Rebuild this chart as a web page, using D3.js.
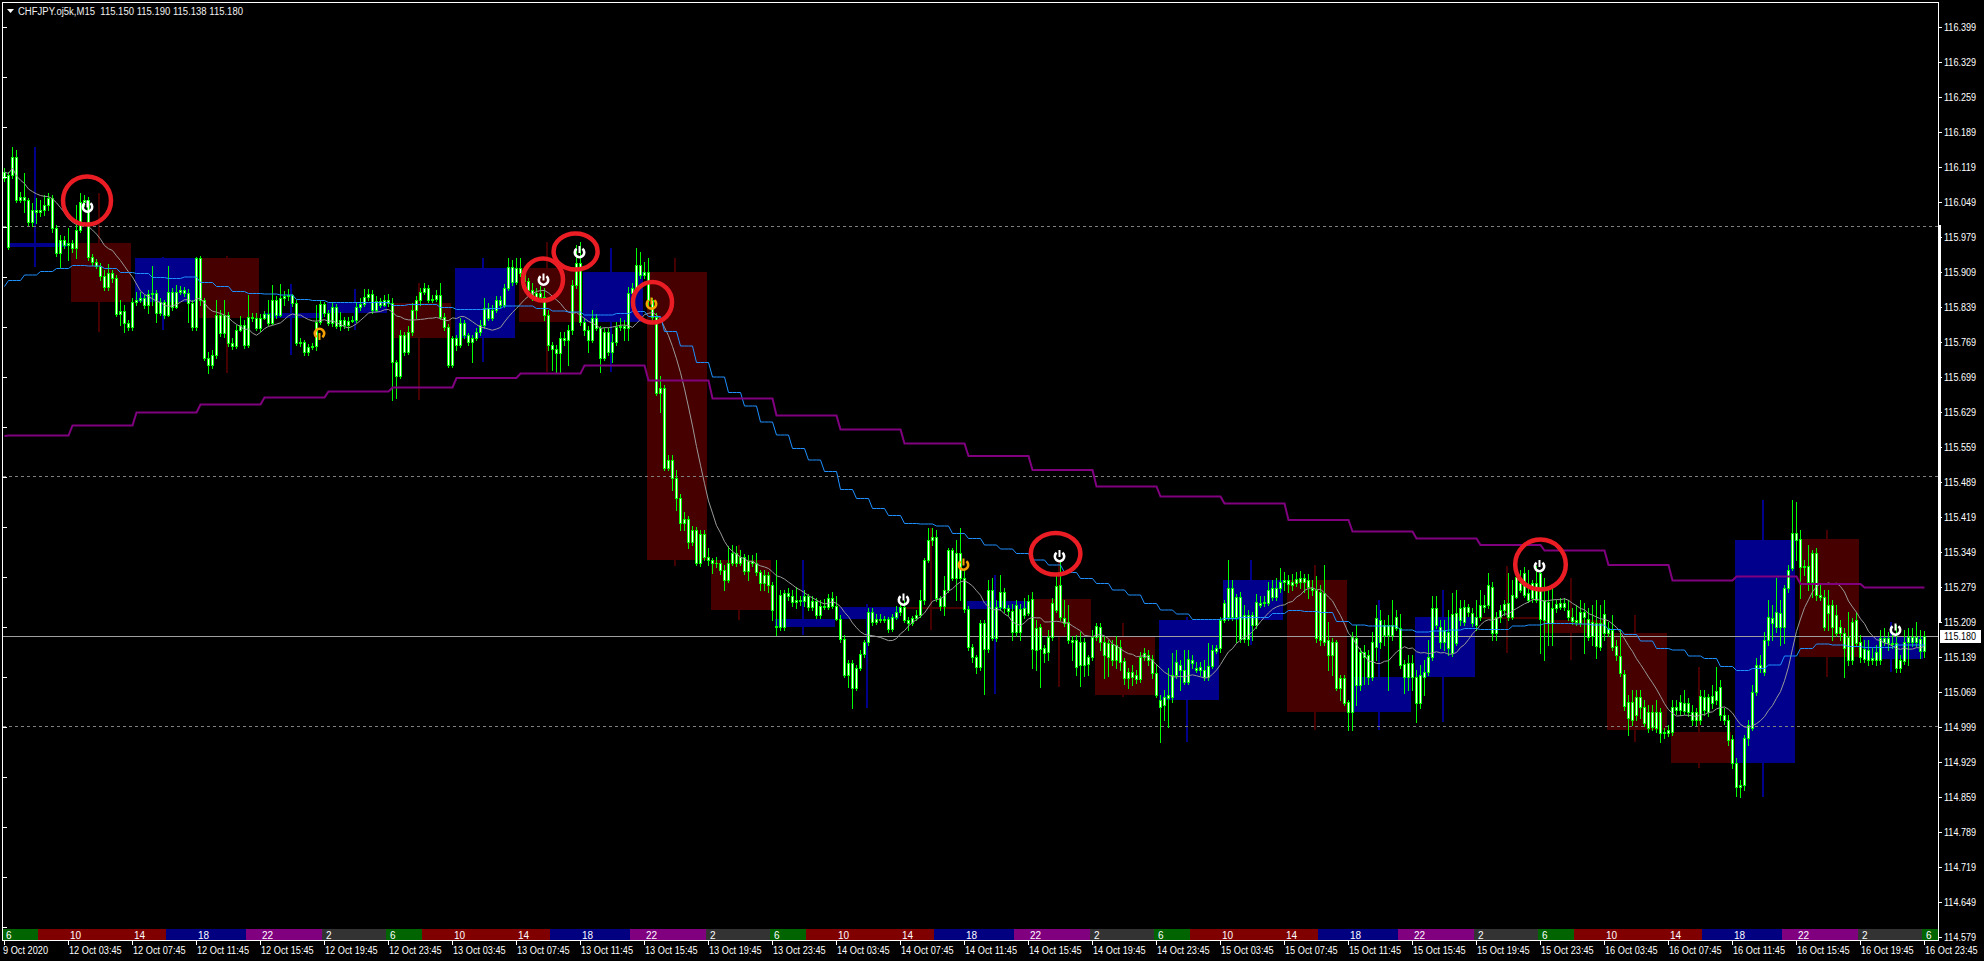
<!DOCTYPE html>
<html><head><meta charset="utf-8">
<script src="https://cdn.jsdelivr.net/npm/d3@7"></script>
<style>html,body{margin:0;padding:0;background:#000;overflow:hidden}svg{display:block}</style>
</head><body>
<svg id="chart" width="1984" height="961"></svg>
<script>
// ---------------- DATA (CHFJPY M15, 9 Oct 23:45 .. 16 Oct 23:45) ----------------
const symbolTitle = "CHFJPY.oj5k,M15  115.150 115.190 115.138 115.180";
const opens = [
116.097,115.959,116.103,116.139,116.053,116.059,116.053,116.009,116.033,116.029,
116.033,116.043,116.057,115.997,115.947,115.973,115.963,115.967,115.957,115.993,
116.049,116.053,115.939,115.929,115.921,115.901,115.879,115.907,115.897,115.825,
115.831,115.807,115.799,115.849,115.853,115.857,115.843,115.865,115.867,115.827,
115.849,115.823,115.869,115.839,115.869,115.873,115.867,115.847,115.799,115.937,
115.853,115.737,115.723,115.743,115.823,115.787,115.823,115.767,115.761,115.793,
115.803,115.763,115.819,115.817,115.797,115.817,115.825,115.807,115.853,115.823,
115.857,115.861,115.863,115.847,115.767,115.769,115.749,115.759,115.761,115.809,
115.845,115.827,115.807,115.839,115.801,115.813,115.803,115.811,115.813,115.839,
115.845,115.859,115.865,115.833,115.851,115.843,115.853,115.847,115.729,115.701,
115.783,115.749,115.789,115.833,115.853,115.869,115.877,115.853,115.855,115.863,
115.819,115.799,115.723,115.777,115.763,115.807,115.783,115.769,115.777,115.789,
115.803,115.837,115.817,115.833,115.853,115.843,115.877,115.919,115.889,115.917,
115.907,115.891,115.873,115.859,115.867,115.859,115.823,115.763,115.755,115.747,
115.777,115.773,115.793,115.883,115.927,115.809,115.793,115.773,115.817,115.797,
115.737,115.789,115.749,115.769,115.799,115.801,115.797,115.867,115.877,115.923,
115.903,115.909,115.853,115.819,115.667,115.677,115.517,115.533,115.497,115.457,
115.407,115.415,115.369,115.393,115.327,115.385,115.339,115.333,115.327,115.327,
115.313,115.293,115.327,115.347,115.327,115.339,115.311,115.331,115.327,115.309,
115.287,115.303,115.283,115.199,115.199,115.199,115.267,115.261,115.249,115.253,
115.251,115.261,115.239,115.251,115.223,115.241,115.239,115.257,115.241,115.215,
115.175,115.103,115.127,115.077,115.117,115.145,115.169,115.229,115.209,115.215,
115.213,115.215,115.195,115.219,115.229,115.239,115.213,115.207,115.217,115.223,
115.253,115.333,115.373,115.379,115.257,115.241,115.273,115.353,115.297,115.347,
115.297,115.235,115.159,115.139,115.119,115.207,115.155,115.273,115.177,115.239,
115.269,115.237,115.231,115.189,115.235,115.223,115.227,115.255,115.153,115.199,
115.147,115.149,115.179,115.233,115.283,115.217,115.209,115.173,115.173,115.123,
115.169,115.125,115.139,115.179,115.199,115.169,115.139,115.165,115.133,115.159,
115.131,115.097,115.109,115.095,115.095,115.139,115.143,115.135,115.107,115.053,
115.043,115.057,115.059,115.103,115.123,115.113,115.089,115.133,115.117,115.113,
115.113,115.099,115.121,115.151,115.157,115.213,115.219,115.277,115.219,115.259,
115.175,115.223,115.203,115.203,115.247,115.247,115.247,115.277,115.259,115.277,
115.289,115.293,115.283,115.287,115.297,115.289,115.293,115.277,115.273,115.173,
115.267,115.173,115.143,115.169,115.077,115.097,115.049,115.029,115.177,115.083,
115.149,115.143,115.099,115.159,115.213,115.183,115.203,115.183,115.197,115.197,
115.125,115.099,115.127,115.099,115.047,115.099,115.109,115.139,115.237,115.199,
115.169,115.189,115.147,115.227,115.213,115.239,115.229,115.227,115.203,115.219,
115.243,115.243,115.279,115.187,115.219,115.233,115.247,115.219,115.259,115.287,
115.263,115.267,115.257,115.287,115.307,115.213,115.249,115.207,115.237,115.247,
115.239,115.233,115.219,115.213,115.207,115.229,115.215,115.181,115.207,115.159,
115.225,115.187,115.193,115.161,115.141,115.105,115.049,115.013,115.059,115.039,
115.039,114.997,115.029,114.997,115.029,114.987,114.987,114.989,115.039,115.033,
115.047,115.029,115.029,115.013,115.013,115.059,115.029,115.061,115.053,115.079,
115.023,115.013,114.975,114.927,114.879,114.883,114.977,114.997,115.069,115.123,
115.109,115.173,115.217,115.199,115.227,115.199,115.277,115.317,115.387,115.375,
115.319,115.321,115.289,115.347,115.263,115.259,115.227,115.243,115.187,115.199,
115.187,115.179,115.133,115.213,115.169,115.135,115.153,115.133,115.133,115.133,
115.177,115.167,115.167,115.167,115.117,115.131,115.169,115.179,115.169,115.175,
115.150];
const highs = [
116.117,116.109,116.159,116.153,116.069,116.107,116.057,116.047,116.057,116.053,
116.063,116.067,116.063,116.003,115.983,115.981,115.997,115.973,116.043,116.067,
116.063,116.059,115.945,115.935,115.927,115.913,115.925,115.913,115.903,115.853,
115.843,115.813,115.857,115.869,115.869,115.863,115.873,115.921,115.873,115.857,
115.853,115.921,115.877,115.883,115.881,115.879,115.875,115.853,115.939,115.941,
115.857,115.749,115.753,115.853,115.833,115.853,115.829,115.777,115.803,115.821,
115.813,115.863,115.827,115.827,115.825,115.831,115.853,115.883,115.861,115.885,
115.871,115.875,115.865,115.853,115.777,115.773,115.765,115.767,115.843,115.853,
115.849,115.833,115.849,115.845,115.829,115.819,115.819,115.821,115.849,115.857,
115.875,115.875,115.873,115.861,115.857,115.863,115.865,115.857,115.733,115.793,
115.789,115.801,115.847,115.861,115.877,115.887,115.883,115.863,115.873,115.887,
115.827,115.805,115.781,115.783,115.817,115.813,115.787,115.783,115.797,115.813,
115.857,115.847,115.843,115.861,115.861,115.885,115.937,115.933,115.937,115.937,
115.913,115.897,115.887,115.877,115.881,115.877,115.833,115.769,115.763,115.789,
115.789,115.803,115.893,115.963,115.969,115.817,115.801,115.833,115.825,115.801,
115.797,115.797,115.785,115.809,115.817,115.813,115.879,115.887,115.957,115.949,
115.929,115.937,115.857,115.827,115.701,115.683,115.543,115.543,115.513,115.465,
115.429,115.421,115.401,115.399,115.393,115.393,115.357,115.337,115.339,115.333,
115.323,115.361,115.363,115.361,115.353,115.345,115.343,115.343,115.347,115.313,
115.313,115.309,115.289,115.333,115.273,115.273,115.277,115.273,115.279,115.261,
115.273,115.265,115.261,115.257,115.253,115.255,115.265,115.269,115.261,115.223,
115.183,115.133,115.133,115.123,115.153,115.173,115.237,115.237,115.225,115.225,
115.221,115.219,115.225,115.241,115.245,115.253,115.219,115.221,115.233,115.273,
115.337,115.397,115.397,115.393,115.261,115.301,115.357,115.357,115.373,115.397,
115.313,115.241,115.165,115.143,115.213,115.213,115.293,115.297,115.253,115.303,
115.277,115.243,115.245,115.253,115.245,115.257,115.263,115.269,115.213,115.205,
115.163,115.193,115.257,115.303,115.329,115.253,115.243,115.181,115.183,115.189,
115.177,115.143,115.193,115.207,115.207,115.181,115.173,115.173,115.181,115.173,
115.137,115.117,115.123,115.113,115.149,115.157,115.153,115.143,115.125,115.063,
115.073,115.117,115.147,115.153,115.133,115.153,115.153,115.143,115.129,115.129,
115.133,115.167,115.163,115.163,115.219,115.253,115.333,115.293,115.265,115.269,
115.243,115.233,115.229,115.265,115.261,115.261,115.289,115.293,115.297,115.317,
115.309,115.303,115.305,115.309,115.311,115.305,115.305,115.293,115.301,115.283,
115.323,115.209,115.177,115.173,115.103,115.103,115.053,115.189,115.203,115.157,
115.163,115.153,115.189,115.243,115.233,115.213,115.223,115.253,115.233,115.225,
115.133,115.143,115.143,115.113,115.123,115.133,115.173,115.261,115.261,115.213,
115.213,115.233,115.267,115.273,115.253,115.253,115.245,115.237,115.253,115.273,
115.263,115.307,115.289,115.229,115.243,115.253,115.307,115.293,115.321,115.313,
115.319,115.313,115.293,115.321,115.309,115.297,115.273,115.277,115.253,115.257,
115.257,115.253,115.237,115.243,115.253,115.247,115.237,115.243,115.253,115.243,
115.253,115.209,115.223,115.173,115.193,115.113,115.063,115.073,115.073,115.073,
115.053,115.043,115.043,115.053,115.037,114.997,115.003,115.053,115.053,115.063,
115.073,115.057,115.043,115.037,115.073,115.073,115.065,115.083,115.119,115.093,
115.037,115.023,114.983,114.937,114.893,114.983,115.013,115.083,115.137,115.143,
115.189,115.253,115.243,115.297,115.253,115.283,115.323,115.453,115.449,115.393,
115.333,115.363,115.353,115.357,115.287,115.273,115.273,115.253,115.243,115.213,
115.197,115.229,115.217,115.229,115.183,115.173,115.173,115.157,115.163,115.193,
115.197,115.189,115.183,115.203,115.143,115.193,115.197,115.197,115.209,115.193,
115.190];
const lows = [
116.091,115.955,116.097,116.049,116.049,116.029,116.003,116.001,116.007,116.021,
116.023,116.033,115.989,115.941,115.919,115.957,115.933,115.949,115.937,115.989,
116.041,115.933,115.923,115.917,115.893,115.873,115.873,115.889,115.821,115.803,
115.789,115.793,115.793,115.843,115.849,115.837,115.827,115.843,115.809,115.823,
115.817,115.821,115.833,115.837,115.865,115.861,115.809,115.793,115.793,115.843,
115.733,115.707,115.717,115.737,115.781,115.779,115.761,115.755,115.757,115.791,
115.757,115.759,115.811,115.793,115.791,115.815,115.803,115.805,115.817,115.821,
115.843,115.853,115.841,115.763,115.761,115.743,115.743,115.755,115.753,115.805,
115.821,115.803,115.801,115.797,115.793,115.797,115.793,115.809,115.809,115.833,
115.841,115.853,115.827,115.831,115.839,115.841,115.841,115.653,115.657,115.697,
115.743,115.745,115.783,115.817,115.843,115.865,115.849,115.849,115.851,115.815,
115.793,115.719,115.719,115.753,115.759,115.777,115.763,115.729,115.773,115.783,
115.797,115.813,115.813,115.829,115.839,115.839,115.873,115.883,115.885,115.901,
115.885,115.869,115.853,115.853,115.853,115.813,115.753,115.713,115.709,115.709,
115.763,115.723,115.785,115.877,115.803,115.783,115.749,115.769,115.793,115.709,
115.733,115.743,115.729,115.763,115.793,115.773,115.773,115.861,115.873,115.897,
115.897,115.843,115.813,115.663,115.629,115.513,115.513,115.473,115.433,115.393,
115.393,115.357,115.363,115.323,115.321,115.333,115.323,115.307,115.319,115.305,
115.273,115.289,115.323,115.321,115.323,115.305,115.293,115.321,115.303,115.273,
115.273,115.269,115.213,115.183,115.193,115.193,115.253,115.241,115.237,115.243,
115.241,115.233,115.233,115.217,115.217,115.235,115.235,115.237,115.213,115.169,
115.099,115.079,115.037,115.073,115.113,115.139,115.163,115.203,115.205,115.209,
115.209,115.189,115.191,115.215,115.223,115.209,115.193,115.203,115.213,115.219,
115.245,115.329,115.363,115.251,115.233,115.223,115.269,115.293,115.253,115.253,
115.229,115.153,115.129,115.107,115.113,115.065,115.149,115.173,115.171,115.233,
115.229,115.223,115.173,115.181,115.173,115.217,115.223,115.117,115.113,115.079,
115.129,115.133,115.173,115.229,115.213,115.201,115.167,115.133,115.103,115.081,
115.101,115.103,115.133,115.173,115.153,115.097,115.101,115.123,115.117,115.113,
115.085,115.077,115.083,115.087,115.089,115.133,115.123,115.097,115.059,114.969,
115.013,114.999,115.049,115.097,115.073,115.085,115.085,115.117,115.109,115.103,
115.093,115.093,115.117,115.147,115.149,115.209,115.213,115.213,115.169,115.169,
115.169,115.163,115.173,115.197,115.239,115.241,115.243,115.253,115.253,115.269,
115.273,115.269,115.273,115.281,115.277,115.269,115.257,115.263,115.169,115.163,
115.163,115.113,115.103,115.073,115.053,115.043,114.993,114.993,115.043,115.073,
115.085,115.085,115.093,115.133,115.157,115.163,115.073,115.173,115.193,115.117,
115.067,115.073,115.073,115.009,115.037,115.063,115.103,115.133,115.197,115.157,
115.153,115.143,115.141,115.163,115.203,115.203,115.221,115.201,115.193,115.213,
115.229,115.237,115.173,115.173,115.209,115.223,115.213,115.215,115.257,115.269,
115.259,115.249,115.249,115.249,115.147,115.133,115.163,115.163,115.229,115.235,
115.233,115.213,115.205,115.203,115.201,115.147,115.173,115.163,115.137,115.153,
115.173,115.181,115.153,115.133,115.101,115.033,114.983,115.003,115.013,115.017,
115.001,114.989,114.993,114.989,114.969,114.977,114.981,114.983,115.025,115.023,
115.025,115.021,115.003,115.003,115.005,115.023,115.021,115.037,115.045,115.013,
115.005,114.963,114.917,114.861,114.859,114.873,114.963,114.993,115.063,115.109,
115.103,115.163,115.173,115.189,115.163,115.167,115.269,115.313,115.333,115.257,
115.303,115.273,115.259,115.253,115.253,115.193,115.193,115.173,115.181,115.173,
115.099,115.123,115.125,115.161,115.129,115.129,115.123,115.125,115.123,115.125,
115.163,115.153,115.157,115.109,115.109,115.125,115.123,115.161,115.161,115.137,
115.138];
const closes = [
116.109,116.103,116.139,116.053,116.059,116.053,116.009,116.033,116.029,116.033,
116.043,116.057,115.997,115.947,115.973,115.963,115.967,115.957,115.993,116.049,
116.053,115.939,115.929,115.921,115.901,115.879,115.907,115.897,115.825,115.831,
115.807,115.799,115.849,115.853,115.857,115.843,115.865,115.867,115.827,115.849,
115.823,115.869,115.839,115.869,115.873,115.867,115.847,115.799,115.937,115.853,
115.737,115.723,115.743,115.823,115.787,115.823,115.767,115.761,115.793,115.803,
115.763,115.819,115.817,115.797,115.817,115.825,115.807,115.853,115.823,115.857,
115.861,115.863,115.847,115.767,115.769,115.749,115.759,115.761,115.809,115.845,
115.827,115.807,115.839,115.801,115.813,115.803,115.811,115.813,115.839,115.845,
115.859,115.865,115.833,115.851,115.843,115.853,115.847,115.729,115.701,115.783,
115.749,115.789,115.833,115.853,115.869,115.877,115.853,115.855,115.863,115.819,
115.799,115.723,115.777,115.763,115.807,115.783,115.769,115.777,115.789,115.803,
115.837,115.817,115.833,115.853,115.843,115.877,115.919,115.889,115.917,115.907,
115.891,115.873,115.859,115.867,115.859,115.823,115.763,115.755,115.747,115.777,
115.773,115.793,115.883,115.927,115.809,115.793,115.773,115.817,115.797,115.737,
115.789,115.749,115.769,115.799,115.801,115.797,115.867,115.877,115.923,115.903,
115.909,115.853,115.819,115.667,115.677,115.517,115.533,115.497,115.457,115.407,
115.415,115.369,115.393,115.327,115.385,115.339,115.333,115.327,115.327,115.313,
115.293,115.327,115.347,115.327,115.339,115.311,115.331,115.327,115.309,115.287,
115.303,115.283,115.233,115.201,115.263,115.267,115.261,115.249,115.253,115.251,
115.261,115.239,115.251,115.223,115.241,115.239,115.257,115.241,115.215,115.175,
115.103,115.127,115.077,115.117,115.145,115.169,115.229,115.209,115.215,115.213,
115.215,115.195,115.219,115.229,115.239,115.213,115.207,115.217,115.223,115.253,
115.333,115.373,115.379,115.257,115.241,115.273,115.353,115.297,115.347,115.297,
115.235,115.159,115.139,115.119,115.207,115.155,115.273,115.177,115.239,115.269,
115.237,115.231,115.189,115.243,115.189,115.237,115.251,115.155,115.197,115.155,
115.157,115.179,115.247,115.281,115.219,115.207,115.173,115.169,115.119,115.169,
115.123,115.139,115.179,115.201,115.169,115.143,115.167,115.133,115.163,115.129,
115.097,115.109,115.099,115.103,115.139,115.147,115.133,115.107,115.063,115.039,
115.059,115.063,115.103,115.129,115.113,115.089,115.135,115.127,115.113,115.119,
115.099,115.121,115.153,115.157,115.213,115.247,115.277,115.219,115.259,115.175,
115.223,115.175,115.223,115.249,115.243,115.249,115.273,115.259,115.277,115.289,
115.293,115.285,115.289,115.295,115.289,115.297,115.279,115.273,115.177,115.269,
115.169,115.143,115.169,115.077,115.097,115.047,115.029,115.179,115.083,115.149,
115.139,115.099,115.169,115.217,115.169,115.203,115.183,115.203,115.219,115.123,
115.099,115.127,115.099,115.047,115.103,115.109,115.139,115.237,115.203,115.169,
115.193,115.157,115.225,115.167,115.237,115.209,115.239,115.207,115.219,115.243,
115.239,115.283,115.187,115.219,115.233,115.245,115.219,115.263,115.299,115.273,
115.307,115.253,115.287,115.253,115.215,115.253,115.207,115.237,115.245,115.239,
115.247,115.219,115.211,115.209,115.229,115.219,115.179,115.209,115.161,115.207,
115.187,115.197,115.159,115.143,115.107,115.041,115.017,115.049,115.023,115.059,
115.007,115.029,114.999,115.029,114.987,114.989,114.993,115.039,115.033,115.049,
115.031,115.047,115.013,115.029,115.061,115.033,115.059,115.047,115.071,115.023,
115.013,114.973,114.927,114.879,114.883,114.977,115.003,115.069,115.123,115.117,
115.173,115.219,115.207,115.229,115.199,115.277,115.313,115.387,115.373,115.319,
115.321,115.289,115.347,115.263,115.259,115.199,115.243,115.199,115.223,115.187,
115.157,115.133,115.209,115.167,115.139,115.155,115.133,115.137,115.149,115.177,
115.169,115.177,115.165,115.117,115.133,115.169,115.179,115.169,115.179,115.150,
115.180];
// H1 moving average (blue): value for bar 0, then one value per hour (4 bars)
const maH1 = [115.880,
115.892,115.903,115.910,115.916,115.922,115.921,115.916,115.908,115.906,115.898,
115.896,115.899,115.888,115.880,115.870,115.866,115.865,115.863,115.854,115.852,
115.848,115.848,115.848,115.848,115.842,115.844,115.844,115.838,115.834,115.834,
115.836,115.841,115.841,115.836,115.831,115.829,115.823,115.823,115.826,115.830,
115.820,115.790,115.761,115.728,115.699,115.668,115.641,115.609,115.583,115.556,
115.533,115.510,115.474,115.456,115.436,115.422,115.406,115.405,115.401,115.386,
115.376,115.363,115.355,115.346,115.333,115.323,115.308,115.296,115.286,115.273,
115.263,115.246,115.233,115.225,115.214,115.214,115.216,115.218,115.218,115.226,
115.232,115.230,115.228,115.210,115.203,115.201,115.201,115.193,115.189,115.191,
115.193,115.196,115.194,115.194,115.201,115.203,115.206,115.206,115.205,115.203,
115.194,115.184,115.171,115.156,115.153,115.141,115.136,115.120,115.112,115.116,
115.123,115.141,115.156,115.165,115.163,115.160,115.158,115.158,115.163,115.163];
// H4 moving average (purple): value for bar 0, then one value per 4-hour block (16 bars)
const maH4 = [115.581,
115.582,115.602,115.628,115.644,115.658,115.670,115.678,115.697,115.706,115.722,
115.692,115.656,115.622,115.594,115.566,115.541,115.513,115.480,115.460,115.446,
115.413,115.390,115.376,115.363,115.352,115.323,115.292,115.300,115.285,115.278];
const fastMaPeriod = 14;
const priceTicks = [116.399,116.329,116.259,116.189,116.119,116.049,115.979,115.909,115.839,115.769,
115.699,115.629,115.559,115.489,115.419,115.349,115.279,115.209,115.139,115.069,114.999,114.929,
114.859,114.789,114.719,114.649,114.579];
const timeLabels = ["9 Oct 2020",
"12 Oct 03:45","12 Oct 07:45","12 Oct 11:45","12 Oct 15:45","12 Oct 19:45","12 Oct 23:45",
"13 Oct 03:45","13 Oct 07:45","13 Oct 11:45","13 Oct 15:45","13 Oct 19:45","13 Oct 23:45",
"14 Oct 03:45","14 Oct 07:45","14 Oct 11:45","14 Oct 15:45","14 Oct 19:45","14 Oct 23:45",
"15 Oct 03:45","15 Oct 07:45","15 Oct 11:45","15 Oct 15:45","15 Oct 19:45","15 Oct 23:45",
"16 Oct 03:45","16 Oct 07:45","16 Oct 11:45","16 Oct 15:45","16 Oct 19:45","16 Oct 23:45"];
const sessionLabels = ["6","10","14","18","22","2","6","10","14","18","22","2","6","10","14","18",
"22","2","6","10","14","18","22","2","6","10","14","18","22","2","6"];
const sessionStartBars = [0, 9, 41, 61, 80];          // offsets inside a 96-bar day
const sessionColors = ["#006400","#800000","#000080","#800080","#333333"];
const roundLevels = [116.0, 115.5, 115.0];
const lastPrice = 115.180;
const axisRangeMark = [116.003, 115.210];
const markerBars   = [21, 79, 135, 144, 162, 225, 240, 264, 384, 473];
const markerPrices = [116.039,115.786,115.893,115.948,115.845,115.253,115.323,115.340,115.320,115.193];
const markerKinds  = ["up","down","up","up","upOrange","up","upOrange","up","up","up"];
const ellipseFromBar = [14.75, 129.75, 137.4, 157.25, 256.7, 377.8];
const ellipseToBar   = [26.75, 139.75, 148.4, 167.0, 269.1, 390.45];
const ellipseTop     = [116.100, 115.936, 115.986, 115.889, 115.387, 115.374];
const ellipseBottom  = [116.004, 115.852, 115.914, 115.808, 115.304, 115.274];

// ---------------- DRAWING ----------------
const W = 1984, H = 961;
const L = 2.5, R = 1938.5, T = 2.5, B = 940.5;
const FONT = "'Liberation Sans', Arial, sans-serif";
const svg = d3.select("#chart");
svg.append("rect").attr("width", W).attr("height", H).attr("fill", "#000");

const n = closes.length;
const x = d3.scaleLinear().domain([0, n - 1]).range([4, 1924]);
const y = d3.scaleLinear().domain([114.579, 116.399]).range([937, 27]);

svg.append("defs").append("clipPath").attr("id", "plotClip")
  .append("rect").attr("x", 3).attr("y", 3).attr("width", 1935).attr("height", 926);
const plot = svg.append("g").attr("clip-path", "url(#plotClip)");

// Higher-timeframe (H4) candles built from the M15 bars
const blocks = d3.range(Math.floor((n - 1) / 16)).map(k => {
  const a = 1 + 16 * k, b = a + 15;
  return { a, b, o: opens[a], c: closes[b],
    h: d3.max(highs.slice(a, b + 1)), l: d3.min(lows.slice(a, b + 1)) };
});
const hg = plot.append("g").attr("shape-rendering", "crispEdges");
blocks.forEach(bk => {
  const col = bk.c >= bk.o ? "#00008c" : "#460000";
  const left = Math.round(x(bk.a)) - 1, width = Math.round(x(bk.b) - x(bk.a));
  const yt = Math.round(y(Math.max(bk.o, bk.c))), yb = Math.round(y(Math.min(bk.o, bk.c)));
  hg.append("rect").attr("x", left + 27).attr("width", 2)
    .attr("y", Math.round(y(bk.h))).attr("height", Math.round(y(bk.l)) - Math.round(y(bk.h)))
    .attr("fill", col);
  hg.append("rect").attr("x", left).attr("width", width)
    .attr("y", yt).attr("height", Math.max(1, yb - yt)).attr("fill", col);
});

// round-number dashed levels
plot.selectAll("line.lvl").data(roundLevels).join("line").attr("class", "lvl")
  .attr("x1", 3).attr("x2", 1938)
  .attr("y1", d => Math.round(y(d)) + 0.5).attr("y2", d => Math.round(y(d)) + 0.5)
  .attr("stroke", "#808080").attr("stroke-width", 1).attr("stroke-dasharray", "3,3");

// last price line
plot.append("line").attr("x1", 3).attr("x2", 1938)
  .attr("y1", Math.round(y(lastPrice)) + 0.5).attr("y2", Math.round(y(lastPrice)) + 0.5)
  .attr("stroke", "#a0a0a0").attr("stroke-width", 1);

// M15 candles
const LIME = "#00ff00";
const cg = plot.append("g").attr("shape-rendering", "crispEdges");
const bars = d3.range(n).map(i => ({ i, o: opens[i], h: highs[i], l: lows[i], c: closes[i] }));
bars.forEach(d => {
  const cx = Math.round(x(d.i));
  const yh = Math.round(y(Math.max(d.h, d.o, d.c))), yl = Math.round(y(Math.min(d.l, d.o, d.c)));
  cg.append("rect").attr("x", cx).attr("y", yh).attr("width", 1).attr("height", Math.max(1, yl - yh + 1)).attr("fill", LIME);
  const yt = Math.round(y(Math.max(d.o, d.c))), yb = Math.round(y(Math.min(d.o, d.c)));
  cg.append("rect").attr("x", cx - 1).attr("y", yt).attr("width", 3).attr("height", Math.max(1, yb - yt + 1)).attr("fill", LIME);
  if (yb - yt >= 2) {
    cg.append("rect").attr("x", cx).attr("y", yt + 1).attr("width", 1).attr("height", yb - yt - 1).attr("fill", "#ffffff");
  }
});

// moving averages
const fastMa = closes.map((c, i) => d3.mean(closes.slice(Math.max(0, i - fastMaPeriod + 1), i + 1)));
const lineGen = d3.line().x((d, i) => x(i) + 0.5).y(d => y(d));
plot.append("path").attr("d", lineGen(fastMa)).attr("fill", "none").attr("stroke", "#9a9a9a").attr("stroke-width", 1);
const h1Series = d3.range(n).map(i => i === 0 ? maH1[0] : maH1[1 + Math.floor((i - 1) / 4)]);
plot.append("path").attr("d", lineGen(h1Series)).attr("fill", "none").attr("stroke", "#1e90ff").attr("stroke-width", 1);
const h4Series = d3.range(n).map(i => i === 0 ? maH4[0] : maH4[1 + Math.floor((i - 1) / 16)]);
plot.append("path").attr("d", lineGen(h4Series)).attr("fill", "none").attr("stroke", "#800080").attr("stroke-width", 2);

// arrow markers
const mg = plot.append("g");
markerBars.forEach((b, k) => {
  const kind = markerKinds[k];
  const col = kind === "up" ? "#ffffff" : "#f5a000";
  const g = mg.append("g").attr("transform",
    `translate(${x(b) - 0.5},${y(markerPrices[k])})` + (kind === "down" ? " rotate(180)" : ""));
  const gap = 38 * Math.PI / 180;
  g.append("path").attr("d", d3.arc()({ innerRadius: 3.4, outerRadius: 6, startAngle: gap, endAngle: 2 * Math.PI - gap }))
    .attr("fill", col);
  g.append("rect").attr("x", -1).attr("y", -6.5).attr("width", 2).attr("height", 7).attr("fill", col);
});

// red annotation ellipses
ellipseFromBar.forEach((fb, k) => {
  const x0 = x(fb), x1 = x(ellipseToBar[k]);
  const y0 = y(ellipseTop[k]), y1 = y(ellipseBottom[k]);
  plot.append("ellipse").attr("cx", (x0 + x1) / 2).attr("cy", (y0 + y1) / 2)
    .attr("rx", (x1 - x0) / 2).attr("ry", (y1 - y0) / 2)
    .attr("fill", "none").attr("stroke", "#ea1c24").attr("stroke-width", 4.5);
});

// session strip at the bottom
const sg = svg.append("g").attr("shape-rendering", "crispEdges");
for (let day = 0; day * 96 < n; day++) {
  sessionStartBars.forEach((s, j) => {
    const start = day * 96 + s;
    const end = day * 96 + (j + 1 < sessionStartBars.length ? sessionStartBars[j + 1] : 96);
    if (start >= n) return;
    const x0 = Math.max(3, Math.round(x(start)) - 2);
    const x1 = end >= n ? 1938 : Math.round(x(end)) - 2;
    sg.append("rect").attr("x", x0).attr("y", 929).attr("width", x1 - x0).attr("height", 11).attr("fill", sessionColors[j]);
  });
}
const tickX = k => Math.round(x(16 * k));
svg.append("g").selectAll("text").data(sessionLabels).join("text")
  .attr("x", (d, k) => tickX(k) + 2).attr("y", 938.5)
  .attr("fill", "#ffffff").attr("font-family", FONT).attr("font-size", "10px").text(d => d);

// frame
const fr = svg.append("g").attr("shape-rendering", "crispEdges");
fr.append("rect").attr("x", L).attr("y", T).attr("width", R - L).attr("height", B - T)
  .attr("fill", "none").attr("stroke", "#ffffff").attr("stroke-width", 1);
fr.append("rect").attr("x", 1937.5).attr("y", Math.round(y(axisRangeMark[0])))
  .attr("width", 3).attr("height", Math.round(y(axisRangeMark[1]) - y(axisRangeMark[0]))).attr("fill", "#ffffff");
// left small ticks every 0.1
d3.range(0, 19).forEach(k => {
  const yy = Math.round(y(116.399 - 0.1 * k)) + 0.5;
  fr.append("line").attr("x1", 3).attr("x2", 7).attr("y1", yy).attr("y2", yy).attr("stroke", "#fff");
});

// right price axis
const ax = svg.append("g");
priceTicks.forEach(p => {
  const yy = Math.round(y(p)) + 0.5;
  ax.append("line").attr("x1", 1939).attr("x2", 1942).attr("y1", yy).attr("y2", yy)
    .attr("stroke", "#fff").attr("shape-rendering", "crispEdges");
  ax.append("text").attr("x", 1944).attr("y", yy + 3.5).attr("fill", "#ffffff")
    .attr("font-family", FONT).attr("font-size", "10px").attr("textLength", 32)
    .attr("lengthAdjust", "spacingAndGlyphs").text(p.toFixed(3));
});
// last price tag
const ly = Math.round(y(lastPrice)) + 0.5;
ax.append("rect").attr("x", 1940).attr("y", ly - 6.5).attr("width", 41).attr("height", 13).attr("fill", "#ffffff");
ax.append("text").attr("x", 1944).attr("y", ly + 3.5).attr("fill", "#000").attr("font-family", FONT)
  .attr("font-size", "10px").attr("textLength", 32).attr("lengthAdjust", "spacingAndGlyphs").text(lastPrice.toFixed(3));

// time axis
timeLabels.forEach((t, k) => {
  const tx = tickX(k);
  ax.append("line").attr("x1", tx + 0.5).attr("x2", tx + 0.5).attr("y1", 941).attr("y2", 945)
    .attr("stroke", "#fff").attr("shape-rendering", "crispEdges");
  const txt = ax.append("text").attr("x", k === 0 ? 3 : tx + 1).attr("y", 954).attr("fill", "#ffffff")
    .attr("font-family", FONT).attr("font-size", "10px").text(t);
  const len = txt.node().getComputedTextLength();
  txt.attr("textLength", len * 0.92).attr("lengthAdjust", "spacingAndGlyphs");
});

// title
svg.append("path").attr("d", "M7,9 L14,9 L10.5,13 Z").attr("fill", "#ffffff");
svg.append("text").attr("x", 18).attr("y", 14.5).attr("fill", "#f0f0f0").attr("font-family", FONT)
  .attr("font-size", "10px").style("white-space", "pre").attr("textLength", 225)
  .attr("lengthAdjust", "spacingAndGlyphs").text(symbolTitle);
</script>
</body></html>
